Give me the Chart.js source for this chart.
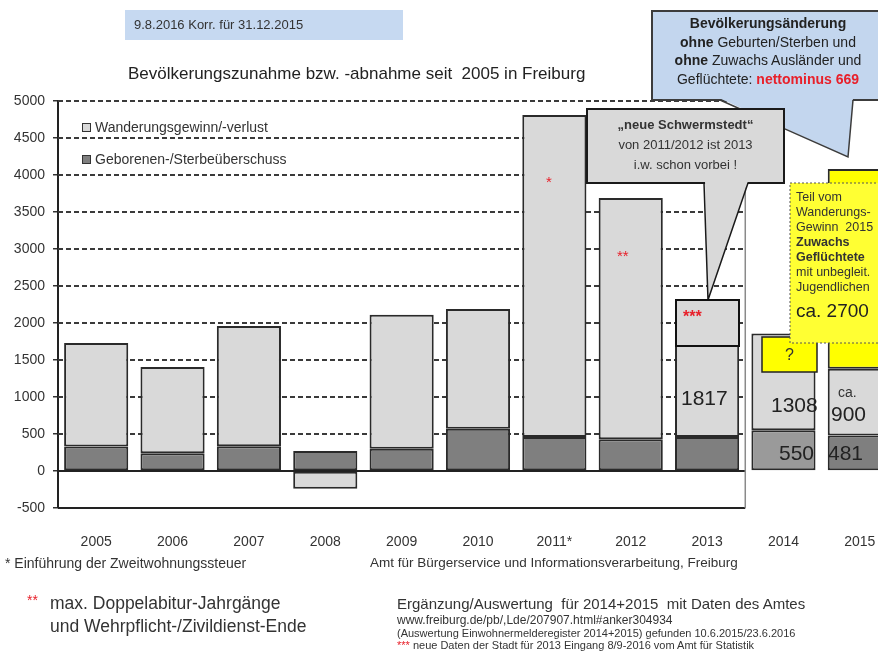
<!DOCTYPE html>
<html lang="de">
<head>
<meta charset="UTF-8">
<title>Bevölkerungszunahme Freiburg</title>
<script src="https://cdn.jsdelivr.net/npm/chart.js"></script>
<style>
body { margin:0; background:#fff; overflow:hidden; font-family:"Liberation Sans", Arial, sans-serif; color:#333; }
#page { position:relative; width:878px; height:659px; overflow:hidden; }
#chartBox { position:absolute; left:0; top:0; width:898px; height:560px; }
#shapes { position:absolute; left:0; top:0; }
.t { position:absolute; white-space:nowrap; line-height:1; }
.narrow { font-family:"Liberation Sans Narrow", "Liberation Sans", sans-serif; }
.red { color:#e8202a; }
.c { text-align:center; }
</style>
</head>
<body>
<div id="page">
	<div id="chartBox"><canvas id="barChart"></canvas></div>

	<svg id="shapes" width="878" height="659">
		<!-- blue callout -->
		<rect x="652" y="11" width="232" height="89" fill="#c3d6ee" stroke="#3c3c3c" stroke-width="2"/>
		<polygon points="719,98 853,98 848,157" fill="#c3d6ee"/>
		<polyline points="720,100 848,157 853,100" fill="none" stroke="#3c3c3c" stroke-width="1.5"/>
		<!-- gray callout -->
		<rect x="587" y="109" width="197" height="74" fill="#d9d9d9" stroke="#1a1a1a" stroke-width="2"/>
		<polygon points="705,181 748,181 708,300" fill="#d9d9d9"/>
		<polyline points="704,183 708,300 748,183" fill="none" stroke="#1a1a1a" stroke-width="1.5"/>
		<!-- *** box on 2013 -->
		<rect x="676" y="300" width="63" height="46" fill="#d9d9d9" stroke="#111" stroke-width="2"/>
		<!-- yellow boxes -->
		<rect x="762" y="337" width="55" height="35" fill="#ffff00" stroke="#222" stroke-width="1.5"/>
		<rect x="790" y="183" width="92" height="160" fill="#ffff33" stroke="#555" stroke-width="1" stroke-dasharray="2,2"/>
	</svg>

	<div class="t" style="left:125px;top:10px;width:278px;height:30px;background:#c6d9f1;"></div>
	<div class="t" style="left:134px;top:18px;font-size:13px;color:#333;">9.8.2016 Korr. für 31.12.2015</div>
	<div class="t" style="left:128px;top:65px;font-size:17px;color:#222;">Bevölkerungszunahme bzw. -abnahme seit&nbsp; 2005 in Freiburg</div>

	<div class="t c" style="left:652px;top:14px;width:232px;font-size:14px;line-height:18.5px;color:#222;">
		<b>Bevölkerungsänderung</b><br>
		<b>ohne</b> Geburten/Sterben und<br>
		<b>ohne</b> Zuwachs Ausländer und<br>
		Geflüchtete: <b class="red">nettominus 669</b>
	</div>

	<div class="t c" style="left:587px;top:115px;width:197px;font-size:13px;line-height:20px;color:#333;">
		<b>„neue Schwermstedt“</b><br>
		von 2011/2012 ist 2013<br>
		i.w. schon vorbei !
	</div>

	<div class="t" style="left:796px;top:190px;font-size:12.5px;line-height:15px;color:#333;">
		Teil vom<br>Wanderungs-<br>Gewinn&nbsp; 2015<br><b>Zuwachs</b><br><b>Geflüchtete</b><br>mit unbegleit.<br>Jugendlichen
	</div>
	<div class="t" style="left:796px;top:301px;font-size:19px;color:#222;">ca. 2700</div>

	<div class="t c" style="left:762px;top:347px;width:55px;font-size:16px;color:#333;">?</div>

	<div class="t red" style="left:546px;top:174px;font-size:15px;">*</div>
	<div class="t red" style="left:617px;top:248px;font-size:15px;">**</div>
	<div class="t red" style="left:683px;top:309px;font-size:16px;font-weight:bold;">***</div>

	<div class="t" style="left:681px;top:387px;font-size:21px;color:#222;">1817</div>
	<div class="t" style="left:771px;top:394px;font-size:21px;color:#222;">1308</div>
	<div class="t" style="left:779px;top:442px;font-size:21px;color:#222;">550</div>
	<div class="t" style="left:838px;top:385px;font-size:14px;color:#333;">ca.</div>
	<div class="t" style="left:831px;top:403px;font-size:21px;color:#222;">900</div>
	<div class="t" style="left:828px;top:442px;font-size:21px;color:#222;">481</div>

	<div class="t narrow" style="left:5px;top:556px;font-size:14px;color:#333;">* Einführung der Zweitwohnungssteuer</div>
	<div class="t narrow" style="left:370px;top:556px;font-size:13.5px;color:#333;">Amt für Bürgerservice und Informationsverarbeitung, Freiburg</div>

	<div class="t red" style="left:27px;top:593px;font-size:14px;">**</div>
	<div class="t" style="left:50px;top:595px;font-size:17.5px;color:#333;">max. Doppelabitur-Jahrgänge</div>
	<div class="t" style="left:50px;top:618px;font-size:17.5px;color:#333;">und Wehrpflicht-/Zivildienst-Ende</div>

	<div class="t" style="left:397px;top:596px;font-size:15px;color:#333;">Ergänzung/Auswertung&nbsp; für 2014+2015&nbsp; mit Daten des Amtes</div>
	<div class="t narrow" style="left:397px;top:614px;font-size:12px;color:#333;">www.freiburg.de/pb/,Lde/207907.html#anker304934</div>
	<div class="t narrow" style="left:397px;top:628px;font-size:11px;color:#333;">(Auswertung Einwohnermelderegister 2014+2015) gefunden 10.6.2015/23.6.2016</div>
	<div class="t narrow" style="left:397px;top:640px;font-size:11px;color:#333;"><span class="red">***</span> neue Daten der Stadt für 2013 Eingang 8/9-2016 vom Amt für Statistik</div>
</div>

<script>
// years, 2014 and 2015 sit right of the framed area
const years = ['2005', '2006', '2007', '2008', '2009', '2010', '2011*', '2012', '2013', '2014', '2015'];
const geborenen = [330, 240, 335, 270, 300, 570, 460, 430, 460, 550, 481];
const wanderung = [1400, 1165, 1625, -240, 1810, 1620, 4350, 3260, 1817, 1308, 900];
const gefluechtete = [null, null, null, null, null, null, null, null, null, null, 2700];
const yTicks = [-500, 0, 500, 1000, 1500, 2000, 2500, 3000, 3500, 4000, 4500, 5000];
const lastFramed = 8; // 2013 is the last year inside the frame

const darkCols = geborenen.map((v, i) => i === 9 ? '#9a9a9a' : '#7f7f7f');

const framePlugin = {
	id: 'frame',
	beforeDatasetsDraw(chart) {
		const {ctx, chartArea, scales} = chart;
		const x = scales.x, y = scales.y;
		const right = (x.getPixelForValue(lastFramed) + x.getPixelForValue(lastFramed + 1)) / 2;
		ctx.save();
		ctx.strokeStyle = '#3a3a3a';
		ctx.lineWidth = 2;
		ctx.setLineDash([5, 3]);
		yTicks.forEach(v => {
			if (v === 0 || v === yTicks[0]) return;
			const py = Math.round(y.getPixelForValue(v));
			ctx.beginPath(); ctx.moveTo(chartArea.left, py); ctx.lineTo(right, py); ctx.stroke();
		});
		ctx.setLineDash([]);
		const zero = Math.round(y.getPixelForValue(0));
		ctx.strokeStyle = '#222';
		ctx.beginPath(); ctx.moveTo(chartArea.left, zero); ctx.lineTo(right, zero); ctx.stroke();
		ctx.beginPath(); ctx.moveTo(chartArea.left, chartArea.bottom); ctx.lineTo(right, chartArea.bottom); ctx.stroke();
		ctx.strokeStyle = '#8a8a8a';
		ctx.lineWidth = 1.5;
		ctx.beginPath(); ctx.moveTo(right, chartArea.top); ctx.lineTo(right, chartArea.bottom); ctx.stroke();
		ctx.restore();
	},
	afterDraw(chart) {
		// legend inside the plot, Wanderung first
		const ctx = chart.ctx;
		const items = [chart.data.datasets[1], chart.data.datasets[0]];
		ctx.save();
		ctx.font = '14px "Liberation Sans", Arial, sans-serif';
		ctx.textBaseline = 'middle';
		items.forEach((ds, i) => {
			const cy = 128 + i * 32;
			const fill = Array.isArray(ds.backgroundColor) ? ds.backgroundColor[0] : ds.backgroundColor;
			ctx.fillStyle = fill;
			ctx.fillRect(82, cy - 5, 9, 9);
			ctx.strokeStyle = '#333';
			ctx.lineWidth = 1;
			ctx.strokeRect(82.5, cy - 4.5, 8, 8);
			ctx.fillStyle = '#333';
			ctx.fillText(ds.label, 95, cy);
		});
		ctx.restore();
	}
};

var ctx = document.getElementById('barChart').getContext('2d');
var barChart = new Chart(ctx, {
	type: 'bar',
	data: {
		labels: years,
		datasets: [
			{
				label: 'Geborenen-/Sterbeüberschuss',
				data: geborenen,
				backgroundColor: darkCols,
				borderColor: '#2a2a2a',
				borderWidth: 2,
				borderSkipped: false
			},
			{
				label: 'Wanderungsgewinn/-verlust',
				data: wanderung,
				backgroundColor: '#d9d9d9',
				borderColor: '#2a2a2a',
				borderWidth: 2,
				borderSkipped: false
			},
			{
				label: 'Zuwachs Geflüchtete',
				data: gefluechtete,
				backgroundColor: '#ffff00',
				borderColor: '#2a2a2a',
				borderWidth: 2,
				borderSkipped: false
			}
		]
	},
	options: {
		responsive: true,
		maintainAspectRatio: false,
		animation: false,
		events: [],
		barPercentage: 0.84,
		categoryPercentage: 1,
		layout: { padding: { top: 101, left: 0, right: 0, bottom: 0 } },
		plugins: { legend: { display: false }, tooltip: { enabled: false } },
		scales: {
			x: {
				stacked: true,
				grid: { display: false },
				border: { display: false },
				ticks: { color: '#333', padding: 18, font: { size: 14, family: '"Liberation Sans", Arial, sans-serif' } },
				afterFit(scale) { scale.height = 52; }
			},
			y: {
				stacked: true,
				min: -500,
				max: 5000,
				afterBuildTicks(scale) { scale.ticks = yTicks.map(v => ({ value: v })); },
				grid: { display: true, drawOnChartArea: false, drawTicks: true, tickLength: 5, color: '#333', lineWidth: 1.5 },
				border: { display: true, color: '#222', width: 2 },
				ticks: {
					color: '#333',
					padding: 8,
					font: { size: 14, family: '"Liberation Sans", Arial, sans-serif' },
					callback: v => String(v)
				},
				afterFit(scale) { scale.width = 58; }
			}
		}
	},
	plugins: [framePlugin]
});
</script>
</body>
</html>
